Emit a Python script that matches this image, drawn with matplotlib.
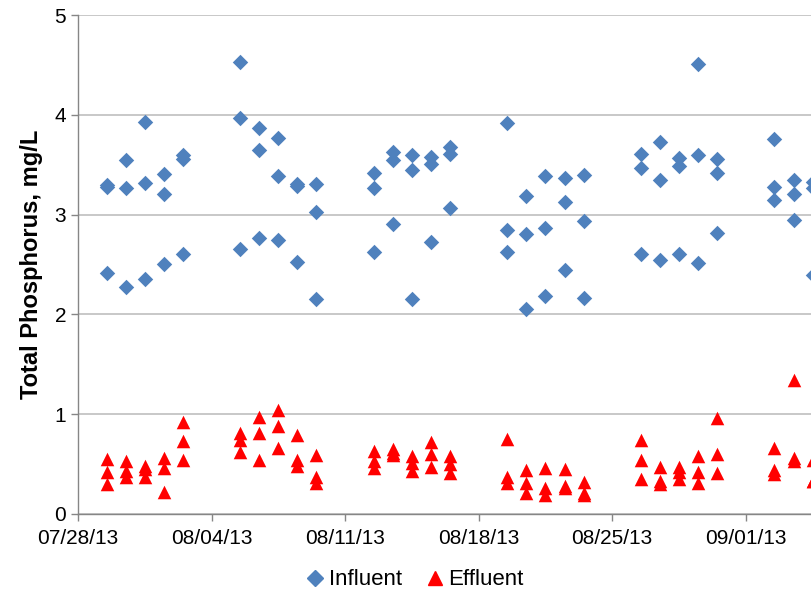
import datetime as dt
import matplotlib
matplotlib.use("Agg")
import matplotlib.pyplot as plt
import matplotlib.dates as mdates
from matplotlib.lines import Line2D

plt.rcParams['font.family'] = ['Liberation Sans Narrow', 'Liberation Sans', 'DejaVu Sans']

# sampling days (weekdays), samples plotted at midday
sample_days = ["2013-07-29", "2013-07-30", "2013-07-31", "2013-08-01", "2013-08-02",
               "2013-08-05", "2013-08-06", "2013-08-07", "2013-08-08", "2013-08-09",
               "2013-08-12", "2013-08-13", "2013-08-14", "2013-08-15", "2013-08-16",
               "2013-08-19", "2013-08-20", "2013-08-21", "2013-08-22", "2013-08-23",
               "2013-08-26", "2013-08-27", "2013-08-28", "2013-08-29", "2013-08-30",
               "2013-09-02", "2013-09-03", "2013-09-04"]

# total phosphorus, mg/L (three samples per day)
influent = [[3.30, 3.28, 2.41], [3.55, 3.27, 2.27], [3.93, 3.32, 2.35], [3.41, 3.21, 2.51], [3.60, 3.56, 2.61],
            [4.53, 3.97, 2.66], [3.87, 3.65, 2.77], [3.77, 3.39, 2.75], [3.31, 3.29, 2.53], [3.31, 3.03, 2.15],
            [3.42, 3.27, 2.63], [3.63, 3.55, 2.91], [3.60, 3.45, 2.15], [3.58, 3.51, 2.73], [3.68, 3.61, 3.07],
            [3.92, 2.85, 2.63], [3.19, 2.81, 2.05], [3.39, 2.87, 2.18], [3.37, 3.13, 2.44], [3.40, 2.94, 2.16],
            [3.61, 3.47, 2.61], [3.73, 3.35, 2.55], [3.57, 3.49, 2.61], [4.51, 3.60, 2.52], [3.56, 3.42, 2.82],
            [3.76, 3.28, 3.15], [3.35, 3.21, 2.95], [3.33, 3.27, 2.39]]

effluent = [[0.55, 0.42, 0.30], [0.53, 0.43, 0.37], [0.48, 0.45, 0.37], [0.56, 0.46, 0.22], [0.92, 0.73, 0.54],
            [0.81, 0.74, 0.62], [0.97, 0.81, 0.54], [1.04, 0.88, 0.66], [0.79, 0.54, 0.48], [0.59, 0.37, 0.31],
            [0.63, 0.53, 0.46], [0.65, 0.61, 0.59], [0.58, 0.51, 0.43], [0.72, 0.60, 0.47], [0.58, 0.50, 0.41],
            [0.75, 0.37, 0.31], [0.44, 0.31, 0.21], [0.46, 0.26, 0.19], [0.45, 0.28, 0.26], [0.32, 0.21, 0.19],
            [0.74, 0.54, 0.35], [0.47, 0.33, 0.30], [0.47, 0.42, 0.35], [0.58, 0.42, 0.31], [0.96, 0.60, 0.41],
            [0.66, 0.44, 0.40], [1.34, 0.56, 0.53], [0.54, 0.33, 0.33]]

x_in, y_in, x_ef, y_ef = [], [], [], []
for d, vi, ve in zip(sample_days, influent, effluent):
    t = dt.datetime.strptime(d, "%Y-%m-%d") + dt.timedelta(hours=12)
    for v in vi:
        x_in.append(t)
        y_in.append(v)
    for v in ve:
        x_ef.append(t)
        y_ef.append(v)

blue = '#4F81BD'
red = '#FF0000'
grid_c = '#BFBFBF'
axis_c = '#868686'

fig = plt.figure(figsize=(8.12, 5.96), dpi=100)
# plot area runs past the right edge, as in the cropped original
ax = fig.add_axes([0.096, 0.1376, 0.987, 0.8372])

ax.scatter(x_in, y_in, marker='D', s=62, color=blue, linewidths=0, zorder=3)
ax.scatter(x_ef, y_ef, marker='^', s=95, color=red, linewidths=0, zorder=3)

ax.set_xlim(dt.datetime(2013, 7, 28), dt.datetime(2013, 9, 8))
ax.set_ylim(0, 5)
ax.set_yticks([0, 1, 2, 3, 4, 5])
ticks = [dt.datetime(2013, 7, 28) + dt.timedelta(days=7 * i) for i in range(6)]
ax.set_xticks(ticks)
ax.xaxis.set_major_formatter(mdates.DateFormatter('%m/%d/%y'))

ax.grid(axis='y', color=grid_c, linewidth=1.2, zorder=0)
ax.set_axisbelow(True)
for s in ['top', 'right']:
    ax.spines[s].set_visible(False)
for s in ['left', 'bottom']:
    ax.spines[s].set_color(axis_c)
    ax.spines[s].set_linewidth(1.0)
ax.tick_params(axis='both', colors=axis_c, length=5, width=1.0, labelsize=15, labelcolor='black')
ax.tick_params(axis='x', pad=6)

ax.set_ylabel("Total Phosphorus, mg/L", fontsize=17, fontweight='bold', labelpad=8)

handles = [Line2D([], [], marker='D', linestyle='none', markersize=8, color=blue),
           Line2D([], [], marker='^', linestyle='none', markersize=10, color=red)]
fig.legend(handles, ['Influent', 'Effluent'], loc='center', bbox_to_anchor=(0.51, 0.027),
           ncol=2, frameon=False, fontsize=16, handletextpad=0.1, columnspacing=1.0,
           handlelength=1.0)

fig.savefig('out.png', dpi=100)
